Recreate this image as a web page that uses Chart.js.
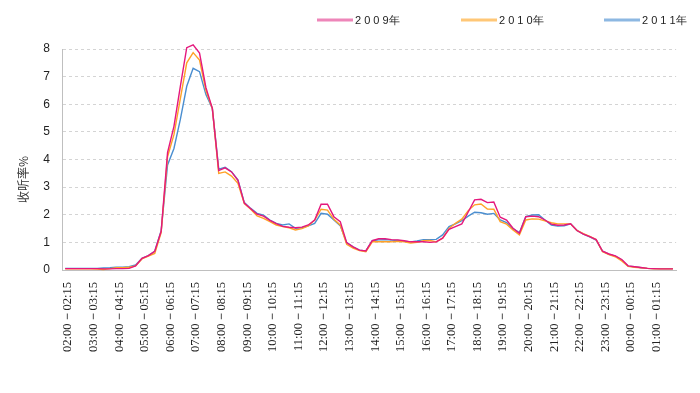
<!DOCTYPE html>
<html>
<head>
<meta charset="utf-8">
<script src="https://cdn.jsdelivr.net/npm/chart.js@4/dist/chart.umd.min.js"></script>
<style>
  html, body { margin: 0; padding: 0; background: #fff; }
  #wrap { width: 700px; height: 393px; }
</style>
</head>
<body>
<div id="wrap"><canvas id="myChart"></canvas></div>
<script>
// hour tick labels (one per hour, data is every 15 minutes)
const hourLabels = [
  "02:00－02:15", "03:00－03:15", "04:00－04:15", "05:00－05:15", "06:00－06:15", "07:00－07:15",
  "08:00－08:15", "09:00－09:15", "10:00－10:15", "11:00－11:15", "12:00－12:15", "13:00－13:15",
  "14:00－14:15", "15:00－15:15", "16:00－16:15", "17:00－17:15", "18:00－18:15", "19:00－19:15",
  "20:00－20:15", "21:00－21:15", "22:00－22:15", "23:00－23:15", "00:00－00:15", "01:00－01:15"
];
const seriesNames = ["2009年", "2010年", "2011年"];

const rate2009 = [
  0.05, 0.05, 0.05, 0.05, 0.05, 0.05, 0.04, 0.04, 0.05, 0.05, 0.06, 0.15,
  0.42, 0.52, 0.68, 1.40, 4.25, 5.20, 6.65, 8.05, 8.15, 7.85, 6.60, 5.85,
  3.60, 3.70, 3.55, 3.25, 2.42, 2.22, 2.02, 1.95, 1.80, 1.68, 1.58, 1.55,
  1.53, 1.55, 1.63, 1.81, 2.38, 2.38, 1.93, 1.75, 0.99, 0.84, 0.72, 0.69,
  1.06, 1.13, 1.13, 1.10, 1.09, 1.06, 1.02, 1.02, 1.02, 1.00, 1.02, 1.15,
  1.47, 1.57, 1.67, 2.10, 2.54, 2.56, 2.44, 2.46, 1.91, 1.81, 1.51, 1.33,
  1.93, 1.95, 1.93, 1.81, 1.66, 1.62, 1.63, 1.67, 1.43, 1.30, 1.21, 1.10,
  0.68, 0.58, 0.51, 0.38, 0.15, 0.12, 0.09, 0.06, 0.05, 0.04, 0.04, 0.04
];
const rate2010 = [
  0.04, 0.04, 0.04, 0.04, 0.04, 0.03, 0.02, 0.05, 0.08, 0.08, 0.10, 0.15,
  0.40, 0.50, 0.60, 1.35, 4.10, 4.90, 6.20, 7.50, 7.87, 7.60, 6.50, 5.85,
  3.50, 3.55, 3.40, 3.14, 2.40, 2.20, 1.96, 1.87, 1.75, 1.63, 1.57, 1.53,
  1.45, 1.50, 1.60, 1.81, 2.20, 2.17, 1.84, 1.63, 0.93, 0.79, 0.70, 0.66,
  1.02, 1.02, 1.02, 1.02, 1.04, 1.02, 0.98, 1.00, 1.06, 1.07, 1.02, 1.15,
  1.50, 1.69, 1.84, 2.15, 2.36, 2.39, 2.21, 2.20, 1.75, 1.66, 1.45, 1.27,
  1.81, 1.85, 1.84, 1.78, 1.71, 1.67, 1.67, 1.67, 1.43, 1.32, 1.22, 1.10,
  0.66, 0.56, 0.48, 0.33, 0.13, 0.10, 0.08, 0.06, 0.04, 0.04, 0.04, 0.04
];
const rate2011 = [
  0.06, 0.06, 0.06, 0.06, 0.06, 0.06, 0.07, 0.08, 0.10, 0.10, 0.12, 0.18,
  0.42, 0.52, 0.68, 1.42, 3.80, 4.40, 5.45, 6.65, 7.30, 7.18, 6.35, 5.85,
  3.65, 3.72, 3.56, 3.26, 2.44, 2.23, 2.05, 1.99, 1.81, 1.69, 1.63, 1.67,
  1.51, 1.53, 1.60, 1.69, 2.05, 2.02, 1.81, 1.60, 0.99, 0.84, 0.72, 0.69,
  1.06, 1.09, 1.10, 1.08, 1.07, 1.04, 1.02, 1.05, 1.10, 1.10, 1.11, 1.27,
  1.57, 1.67, 1.79, 1.95, 2.09, 2.07, 2.02, 2.05, 1.81, 1.72, 1.50, 1.35,
  1.93, 1.99, 2.00, 1.81, 1.63, 1.59, 1.60, 1.67, 1.43, 1.30, 1.20, 1.08,
  0.68, 0.57, 0.50, 0.36, 0.14, 0.12, 0.08, 0.06, 0.05, 0.05, 0.05, 0.05
];

// 4 quarter-hour slots per hour, only the first one gets a tick label
const categories = hourLabels.flatMap(l => [l, "", "", ""]);

const lineColors = ["#E5177C", "#FFA126", "#4A8ED0"];
const legendColors = ["#EE86B9", "#FFC777", "#8DB8E2"];

// legend up in the top right, wide gaps like the original
const topLegend = {
  id: "topLegend",
  afterDraw(chart) {
    const ctx = chart.ctx;
    const starts = [317, 461, 604];
    const y = 20;
    ctx.save();
    ctx.font = '11px "Liberation Sans"';
    ctx.textBaseline = "middle";
    ctx.textAlign = "left";
    chart.data.datasets.forEach((ds, i) => {
      ctx.strokeStyle = ds.backgroundColor;
      ctx.lineWidth = 3;
      ctx.beginPath();
      ctx.moveTo(starts[i], y);
      ctx.lineTo(starts[i] + 36, y);
      ctx.stroke();
      ctx.fillStyle = "#222";
      ctx.fillText(ds.label.replace(/(\d)(?=\d)/g, "$1 "), starts[i] + 38, y + 1);
    });
    ctx.restore();
  }
};

// y axis title, a bit below the middle like the original
const yTitle = {
  id: "yTitle",
  afterDraw(chart) {
    const ctx = chart.ctx;
    const area = chart.chartArea;
    ctx.save();
    ctx.translate(23, (area.top + area.bottom) / 2 + 20);
    ctx.rotate(-Math.PI / 2);
    ctx.font = '12px "Noto Sans CJK SC"';
    ctx.fillStyle = "#333";
    ctx.textAlign = "center";
    ctx.textBaseline = "middle";
    ctx.fillText("收听率%", 0, 0);
    ctx.restore();
  }
};

const ctx = document.getElementById("myChart");
new Chart(ctx, {
  type: "line",
  data: {
    labels: categories,
    datasets: [rate2009, rate2010, rate2011].map((d, i) => ({
      label: seriesNames[i],
      data: d,
      borderColor: lineColors[i],
      backgroundColor: legendColors[i],
      borderWidth: 1.4,
      pointRadius: 0,
      tension: 0,
      clip: false,
    })),
  },
  options: {
    responsive: true,
    maintainAspectRatio: false,
    animation: false,
    layout: {
      padding: { left: 0, right: 16, top: 49, bottom: 0 },
    },
    plugins: {
      tooltip: { enabled: false },
      legend: { display: false },
    },
    scales: {
      x: {
        offset: true,
        grid: { display: false, drawTicks: false, offset: false },
        border: { display: true, color: "#BFBFBF", width: 1 },
        ticks: {
          autoSkip: false,
          minRotation: 90,
          maxRotation: 90,
          padding: 12,
          labelOffset: 3,
          color: "#222",
          font: { family: "Liberation Serif", size: 12.5 },
          callback: function (v) {
            return this.getLabelForValue(v);
          },
        },
        afterFit(scale) {
          scale.height = 123;
        },
      },
      y: {
        min: 0,
        max: 8,
        grid: { color: "#D4D4D4", drawTicks: false },
        border: { display: true, color: "#BFBFBF", width: 1, dash: [3, 3] },
        ticks: {
          stepSize: 1,
          padding: 12,
          color: "#222",
          font: { family: "Liberation Sans", size: 12 },
        },
        afterFit(scale) {
          scale.width = 62;
        },
      },
    },
  },
  plugins: [topLegend, yTitle],
});
</script>
</body>
</html>
